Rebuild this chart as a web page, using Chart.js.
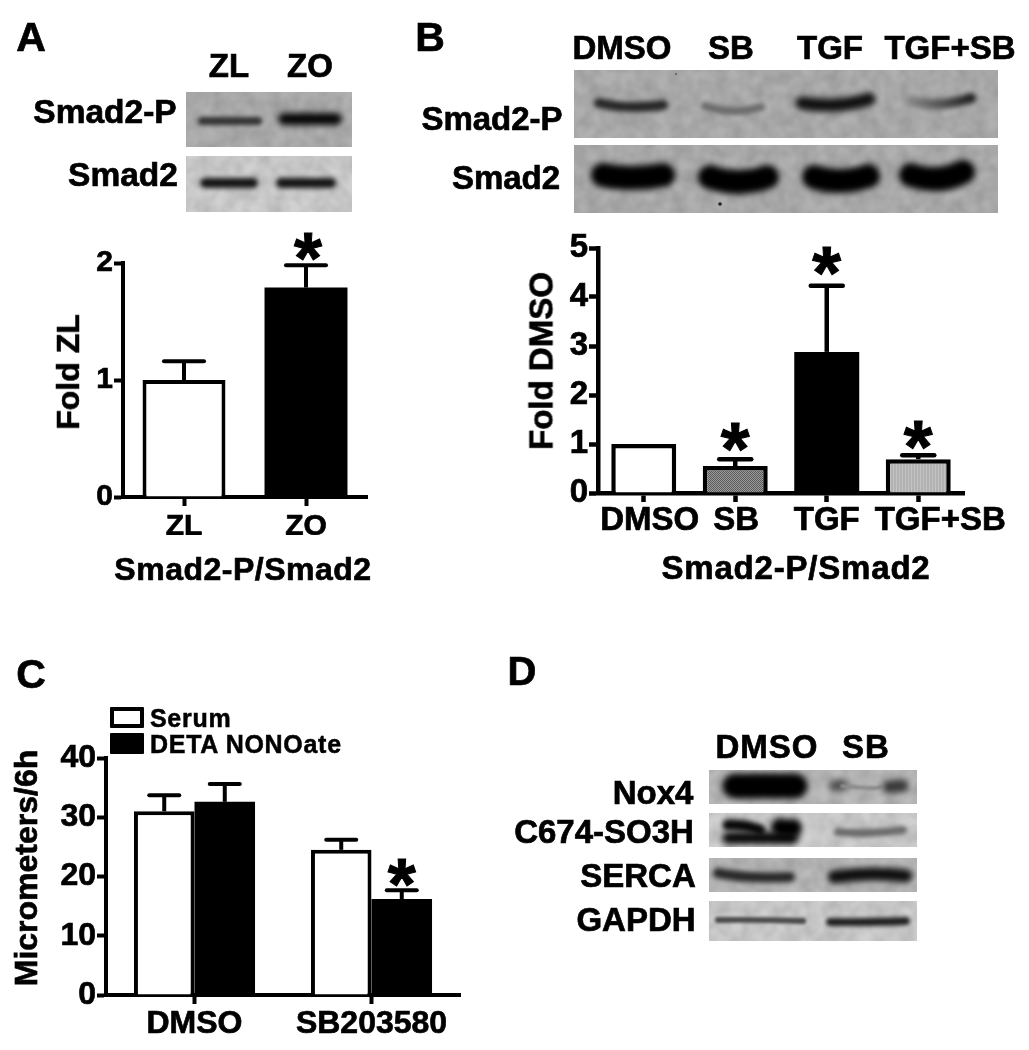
<!DOCTYPE html>
<html>
<head>
<meta charset="utf-8">
<title>Smad2 figure</title>
<script src="https://cdn.jsdelivr.net/npm/chart.js@4/dist/chart.umd.js"></script>
<style>
  html, body { margin: 0; padding: 0; background: #fff; }
  #page { position: relative; width: 1029px; height: 1050px; overflow: hidden; font-family: "Liberation Sans", Arial, sans-serif; font-weight: bold; color: #000; }
  #page canvas { position: absolute; }
  .txt { position: absolute; line-height: 1; white-space: nowrap; transform: translate(-50%, -50%); -webkit-text-stroke: 0.7px #000; }
  .swatch { position: absolute; box-sizing: border-box; border: 4px solid #000; border-radius: 1px; }
</style>
</head>
<body>
<svg width="0" height="0" style="position:absolute">
  <filter id="grain" x="0" y="0" width="100%" height="100%">
    <feTurbulence type="fractalNoise" baseFrequency="0.07" numOctaves="2" seed="4"/>
    <feColorMatrix type="matrix" values="0 0 0 0 0  0 0 0 0 0  0 0 0 0 0  0.2 0 0 0 -0.05"/>
  </filter>
</svg>
<div id="page">
  <canvas id="blots" width="1029" height="1050" style="left:0;top:0"></canvas>
  <canvas id="chartA"></canvas>
  <canvas id="chartB"></canvas>
  <canvas id="chartC"></canvas>
</div>
<script>
// Panel A
const catsA = ["ZL", "ZO"];
const valsA = [1.0, 1.79];
const errA = [0.16, 0.19];
const starsA = [false, true];

// Panel B
const catsB = ["DMSO", "SB", "TGF", "TGF+SB"];
const valsB = [1.0, 0.55, 2.88, 0.69];
const errB = [0, 0.14, 1.35, 0.08];
const starsB = [false, true, true, true];

// Panel C
const catsC = ["DMSO", "SB203580"];
const serumC = [31.0, 24.5];
const serumErrC = [2.7, 1.7];
const detaC = [32.6, 16.2];
const detaErrC = [3.0, 1.5];
const starsDetaC = [false, true];
const seriesC = ["Serum", "DETA NONOate"];

const FONT = "'Liberation Sans', Arial, sans-serif";

// text that is not part of an axis: [text, centre x, centre y, size, spacing, rotation]
const labels = [
  ["A", 31, 37, 41], ["B", 430, 37, 41], ["C", 31, 674, 41], ["D", 522, 671, 40],
  ["ZL", 229, 65, 33], ["ZO", 310, 65, 33],
  ["Smad2-P", 105, 112, 33.5], ["Smad2", 123, 175, 33.5],
  ["DMSO", 622, 47, 33], ["SB", 731, 47, 33], ["TGF", 830, 47, 33], ["TGF+SB", 950, 47, 33],
  ["Smad2-P", 492, 118, 33], ["Smad2", 506, 177, 33],
  ["DMSO", 767, 746, 33, 1], ["SB", 866, 746, 33, 1],
  ["Nox4", 653, 792, 33], ["C674-SO3H", 604, 831, 33], ["SERCA", 638, 875, 33], ["GAPDH", 636, 919, 33],
  ["Fold ZL", 68, 372, 32, 0, -90], ["Fold DMSO", 541, 361, 33, 0, -90], ["Micrometers/6h", 26, 868, 32, 0, -90],
  ["Smad2-P/Smad2", 243, 569, 32, 0.5], ["Smad2-P/Smad2", 796, 567, 33, 0.8]
];

// blot strips: panel rect + grey, then bands [x0, y0, xm, ym, x1, y1, thick, colour, colour at end]
const blots = [
  { r: [186, 92, 166, 55], bg: "#b0b0b0", bands: [[202, 121, 230, 121, 258, 121, 8, "#333333"], [284, 119, 310, 119, 336, 119, 12, "#050505"]] },
  { r: [186, 156, 166, 56], bg: "#d0d0d0", bands: [[205, 183, 229, 183, 253, 183, 10, "#141414"], [281, 183, 306, 183, 331, 183, 10, "#141414"]] },
  { r: [574, 70, 424, 68], bg: "#b0b0b0", bands: [
    [599, 103, 630, 107, 663, 105, 10, "#262626"], [705, 106, 733, 111, 761, 107, 8, "#6c6c6c"],
    [802, 103, 836, 105, 869, 99, 13, "#101010"], [912, 101, 940, 104, 971, 98, 10, "#828282", "#202020"]] },
  { r: [574, 145, 424, 68], bg: "#b0b0b0", bands: [
    [603, 175, 632, 178, 663, 175, 24, "#000000"], [710, 177, 738, 182, 767, 177, 24, "#000000"],
    [814, 177, 841, 181, 868, 176, 24, "#000000"], [911, 175, 938, 179, 963, 172, 24, "#000000"]] },
  { r: [709, 770, 208, 34], bg: "#bcbcbc", bands: [
    [735, 786, 765, 786, 795, 786, 25, "#000000"], [835, 786, 840, 785, 842, 785, 12, "#505050"],
    [842, 786, 870, 788, 880, 787, 4, "#8c8c8c"], [889, 787, 898, 786, 902, 786, 13, "#383838"]] },
  { r: [709, 813, 208, 34], bg: "#d0d0d0", bands: [
    [728, 825, 745, 826, 760, 830, 11, "#080808"], [728, 838, 760, 838, 792, 838, 12, "#080808"],
    [780, 827, 785, 828, 793, 828, 18, "#000000"], [838, 832, 870, 833, 903, 830, 8, "#6a6a6a"]] },
  { r: [709, 858, 208, 34], bg: "#bcbcbc", bands: [
    [718, 873, 750, 877, 790, 877, 10, "#282828"], [834, 877, 870, 874, 906, 876, 13, "#0d0d0d"]] },
  { r: [709, 901, 208, 40], bg: "#d0d0d0", bands: [
    [718, 920, 760, 920, 803, 921, 6, "#4a4a4a"], [830, 922, 870, 922, 906, 921, 8, "#1c1c1c"]] }
];
const spots = [[720, 204, 1.8], [676, 74, 0.8]];

function drawBlots() {
  const ctx = document.getElementById("blots").getContext("2d");
  blots.forEach((b) => {
    const [x, y, w, h] = b.r;
    ctx.save();
    ctx.fillStyle = b.bg;
    ctx.fillRect(x, y, w, h);
    ctx.beginPath();
    ctx.rect(x, y, w, h);
    ctx.clip();
    ctx.filter = "url(#grain)";
    ctx.fillRect(x, y, w, h);
    ctx.lineCap = "round";
    b.bands.forEach((s) => {
      ctx.filter = "blur(" + Math.min(3, s[6] / 4) + "px)";
      if (s[8]) {
        const g = ctx.createLinearGradient(s[0], 0, s[4], 0);
        g.addColorStop(0, s[7]);
        g.addColorStop(1, s[8]);
        ctx.strokeStyle = g;
      } else {
        ctx.strokeStyle = s[7];
      }
      ctx.lineWidth = s[6];
      ctx.beginPath();
      ctx.moveTo(s[0], s[1]);
      ctx.quadraticCurveTo(s[2] * 2 - (s[0] + s[4]) / 2, s[3] * 2 - (s[1] + s[5]) / 2, s[4], s[5]);
      ctx.stroke();
    });
    ctx.restore();
  });
  ctx.fillStyle = "#222";
  spots.forEach((s) => {
    ctx.beginPath();
    ctx.arc(s[0], s[1], s[2], 0, Math.PI * 2);
    ctx.fill();
  });
}

function addLabels() {
  const page = document.getElementById("page");
  labels.forEach((l) => {
    const d = document.createElement("div");
    d.className = "txt";
    d.textContent = l[0];
    d.style.left = l[1] + "px";
    d.style.top = l[2] + "px";
    d.style.fontSize = l[3] + "px";
    if (l[4]) d.style.letterSpacing = l[4] + "px";
    if (l[5]) d.style.transform = "translate(-50%, -50%) rotate(" + l[5] + "deg)";
    page.appendChild(d);
  });
}

function addLegend(chart) {
  const page = document.getElementById("page");
  const rows = [[718, "#fff"], [744, "#000"]];
  chart.data.datasets.forEach((ds, i) => {
    const box = document.createElement("div");
    box.className = "swatch";
    box.style.cssText = "left:110px;top:" + (rows[i][0] - 11) + "px;width:34px;height:21px;background:" + rows[i][1];
    page.appendChild(box);
    const t = document.createElement("div");
    t.className = "txt";
    t.textContent = ds.label;
    t.style.cssText = "transform:translateY(-50%);left:150px;top:" + rows[i][0] + "px;font-size:25px;letter-spacing:0.7px;-webkit-text-stroke:0.5px #000";
    page.appendChild(t);
  });
}

// fine fills of the two grey bars in panel B
function ditherFill() {
  const c = document.createElement("canvas");
  c.width = c.height = 2;
  const x = c.getContext("2d");
  x.fillStyle = "#9a9a9a";
  x.fillRect(0, 0, 2, 2);
  x.fillStyle = "#5c5c5c";
  x.fillRect(0, 0, 1, 1);
  x.fillRect(1, 1, 1, 1);
  return x.createPattern(c, "repeat");
}
function stripeFill() {
  const c = document.createElement("canvas");
  c.width = 3;
  c.height = 1;
  const x = c.getContext("2d");
  x.fillStyle = "#b2b2b2";
  x.fillRect(0, 0, 3, 1);
  x.fillStyle = "#c2c2c2";
  x.fillRect(0, 0, 1, 1);
  return x.createPattern(c, "repeat");
}

// error bars (upper only) and significance stars, placed through the scales
const errorBars = {
  id: "errorBars",
  afterDatasetsDraw(chart, args, opts) {
    const ctx = chart.ctx;
    const y = chart.scales.y;
    chart.data.datasets.forEach((ds, di) => {
      const meta = chart.getDatasetMeta(di);
      ds.data.forEach((v, i) => {
        const err = ds.errors[i];
        const x = meta.data[i].x;
        const top = y.getPixelForValue(v + err);
        ctx.save();
        ctx.strokeStyle = "#000";
        ctx.lineWidth = opts.lineWidth;
        if (err > 0) {
          ctx.lineCap = "butt";
          ctx.beginPath();
          ctx.moveTo(x, y.getPixelForValue(v));
          ctx.lineTo(x, top);
          ctx.stroke();
          ctx.lineCap = "round";
          ctx.beginPath();
          ctx.moveTo(x - opts.capHalf, top);
          ctx.lineTo(x + opts.capHalf, top);
          ctx.stroke();
        }
        if (ds.stars[i]) {
          const sy = top - opts.starGap[i] + opts.starSize * 0.39;
          ctx.fillStyle = "#000";
          ctx.textAlign = "center";
          ctx.textBaseline = "alphabetic";
          ctx.font = "bold " + opts.starSize + "px " + FONT;
          ctx.lineWidth = 1;
          ctx.lineCap = "butt";
          ctx.fillText("*", x + opts.starDx, sy);
          ctx.strokeText("*", x + opts.starDx, sy);
        }
        ctx.restore();
      });
    });
  }
};

// tick labels of panel B are not all centred under their ticks
const labelShift = {
  id: "labelShift",
  afterLayout(chart, args, opts) {
    if (!opts.shift) return;
    chart.scales.x.getLabelItems(chart.chartArea).forEach((item, i) => {
      item.options.translation[0] += opts.shift[i];
    });
  }
};

function makeChart(id, box, cats, datasets, o) {
  const cv = document.getElementById(id);
  cv.width = box.w;
  cv.height = box.h;
  cv.style.left = box.x + "px";
  cv.style.top = box.y + "px";
  const plotLeft = box.l - box.x;
  const plotTop = box.t - box.y;
  const tickFont = { family: FONT, weight: "bold", size: o.tickSize };
  return new Chart(cv, {
    type: "bar",
    data: { labels: cats, datasets: datasets },
    plugins: [errorBars, labelShift],
    options: {
      responsive: false,
      animation: false,
      devicePixelRatio: 1,
      layout: { padding: { left: 0, top: plotTop, right: box.x + box.w - box.r, bottom: 0 } },
      plugins: {
        legend: { display: false },
        tooltip: { enabled: false },
        errorBars: o.err,
        labelShift: { shift: o.shift }
      },
      scales: {
        x: {
          offset: true,
          afterFit(s) { s.height = box.y + box.h - box.b; },
          grid: { offset: false, drawOnChartArea: false, tickLength: 9, tickWidth: o.axis, tickColor: "#000" },
          border: { color: "#000", width: o.axis },
          ticks: { color: "#000", font: tickFont, padding: o.xPad, autoSkip: false, maxRotation: 0, textStrokeColor: "#000", textStrokeWidth: 0.7 }
        },
        y: {
          min: 0,
          max: o.max,
          afterFit(s) { s.width = plotLeft; },
          grid: { drawOnChartArea: false, tickLength: 9, tickWidth: o.axis, tickColor: "#000" },
          border: { color: "#000", width: o.axis },
          ticks: { stepSize: o.step, color: "#000", font: tickFont, padding: 1, textStrokeColor: "#000", textStrokeWidth: 0.7 }
        }
      }
    }
  });
}

drawBlots();
addLabels();

makeChart("chartA", { x: 0, y: 225, w: 440, h: 310, l: 123, r: 367, t: 263, b: 497 }, catsA, [{
  data: valsA, errors: errA, stars: starsA,
  backgroundColor: ["#fff", "#000"], borderColor: "#000", borderWidth: [4, 0],
  barPercentage: 0.68, categoryPercentage: 1
}], {
  max: 2, step: 1, tickSize: 30, axis: 4, xPad: 3,
  err: { lineWidth: 4, capHalf: 20, starSize: 72, starGap: [0, 10], starDx: 2 }
});

makeChart("chartB", { x: 500, y: 220, w: 529, h: 320, l: 598, r: 964, t: 248, b: 493 }, catsB, [{
  data: valsB, errors: errB, stars: starsB,
  backgroundColor: ["#fff", ditherFill(), "#000", stripeFill()], borderColor: "#000", borderWidth: [4.5, 4.5, 0, 4.5],
  barPercentage: 0.71, categoryPercentage: 1
}], {
  max: 5, step: 1, tickSize: 33, axis: 4.5, xPad: -1, shift: [6, 1, 0, 22],
  err: { lineWidth: 4.5, capHalf: 16, starSize: 74, starGap: [0, 14, 17, 12], starDx: 0 }
});

const chartC = makeChart("chartC", { x: 0, y: 735, w: 490, h: 300, l: 106, r: 460, t: 758, b: 995 }, catsC, [
  { label: seriesC[0], data: serumC, errors: serumErrC, stars: [false, false], backgroundColor: "#fff", borderColor: "#000", borderWidth: 4, barPercentage: 1, categoryPercentage: 0.684 },
  { label: seriesC[1], data: detaC, errors: detaErrC, stars: starsDetaC, backgroundColor: "#000", borderWidth: 0, barPercentage: 1, categoryPercentage: 0.684 }
], {
  max: 40, step: 10, tickSize: 32, axis: 4, xPad: 1,
  err: { lineWidth: 4, capHalf: 15, starSize: 72, starGap: [0, 9], starDx: 0 }
});
addLegend(chartC);
</script>
</body>
</html>
